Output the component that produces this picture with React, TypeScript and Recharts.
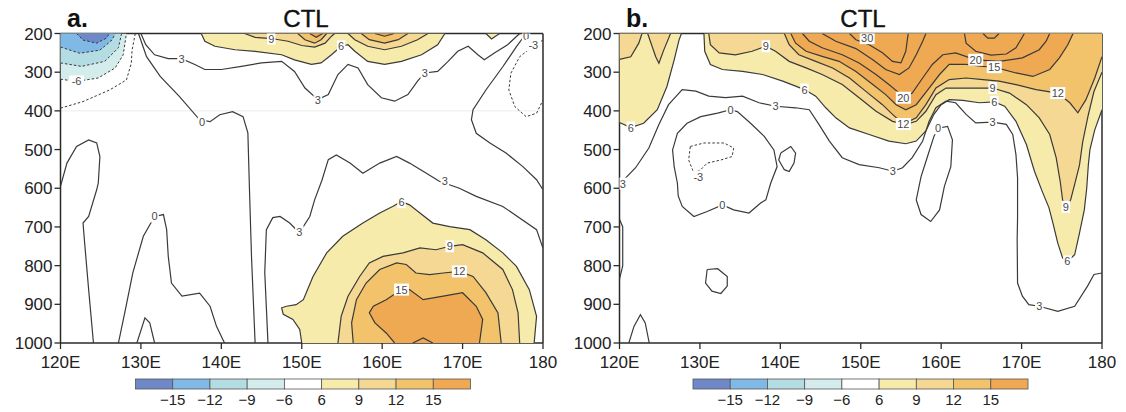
import React from "react"
import { ScatterChart, Scatter, XAxis, YAxis, ReferenceLine } from "recharts"

type Pt = [number, number]
type Label = [number, number, string]

// shading levels (colour bar) and ticks
const shadeColors = ["#6f88c8", "#80b9e6", "#b4dde3", "#d5ecec", "#ffffff", "#f7ebab", "#f4d893", "#f2c36b", "#efa952"]
const shadeLabels = ["−15", "−12", "−9", "−6", "6", "9", "12", "15"]
const lonTicks = [120, 130, 140, 150, 160, 170, 180]
const presTicks = [200, 300, 400, 500, 600, 700, 800, 900, 1000]

// ---- panel a contours (lon, hPa) ----
const aNeg3: Pt[] = [[120, 393], [122.8, 376], [126.1, 346], [128.2, 320], [128.8, 277], [128.9, 243], [129.3, 200]]
const aNeg6: Pt[] = [[120, 318], [122, 324], [124.7, 315], [126.8, 289], [127.8, 255], [128.2, 200]]
const aNeg9: Pt[] = [[120, 276], [122.6, 285], [125.5, 272], [127.2, 237], [127.6, 200]]
const aNeg12: Pt[] = [[120, 235], [122.4, 251], [124.9, 243], [126.4, 217], [126.8, 200]]
const aNeg15: Pt[] = [[122, 200], [122.8, 217], [124.5, 225], [125.7, 212], [126.1, 200]]
const aZeroTop: Pt[] = [[129.7, 200], [130.7, 260], [132.4, 311], [134.8, 363], [137.3, 423], [138.6, 428], [139.8, 410], [141.4, 402], [142.7, 415], [143.3, 457], [143.5, 604], [143.75, 776], [144.2, 1000]]
const aZeroLeft: Pt[] = [[120, 595], [120.8, 535], [122, 492], [123.5, 475], [124.5, 483], [124.9, 518], [124.7, 586], [124.5, 604], [123.5, 673], [122.8, 690], [123, 741], [123.5, 862], [124.1, 1000]]
const aZeroMid: Pt[] = [[127.2, 1000], [128, 921], [129, 818], [130.3, 724], [131.7, 673], [132.8, 668], [133.2, 707], [133.4, 776], [133.8, 845], [135.1, 879], [137.3, 871], [138.6, 905], [139.4, 957], [140.4, 1000]]
const aZeroSmall: Pt[] = [[129.5, 1000], [130.5, 935], [131.1, 948], [131.7, 1000]]
const aThreeTop: Pt[] = [[130, 200], [130.6, 229], [131.7, 255], [133.4, 265], [135.05, 265], [136.7, 280], [137.95, 293], [140, 293], [142.5, 285], [145, 276], [147.5, 272], [149.1, 298], [150.4, 341], [152, 371], [153.3, 358], [154.5, 306], [155.75, 280], [157, 289], [158.2, 332], [159.9, 366], [161.55, 375], [163.2, 358], [164.4, 323], [165.3, 302], [166.9, 298], [168.2, 272], [169.4, 246], [170.7, 233], [171.9, 255], [172.7, 268], [174, 250], [175.6, 229], [177.1, 200]]
const aZeroRight: Pt[] = [[177.9, 200], [176.7, 234], [175, 286], [172.9, 346], [171.3, 397], [171.1, 423], [171.7, 458], [173.4, 483], [175.4, 509], [177.5, 544], [179.2, 578], [180, 604]]
const aNeg3Right: Pt[] = [[180, 217], [178.7, 234], [177.1, 260], [176, 303], [175.75, 346], [176.5, 389], [177.9, 415], [179.2, 406], [180, 372]]
const aThreeBot: Pt[] = [[145.8, 1000], [145.4, 818], [145.6, 707], [146.4, 676], [147.3, 673], [148.5, 690], [149.7, 715], [151, 673], [151.6, 630], [152.5, 580], [153.3, 526], [154.3, 514], [156, 535], [157.6, 561], [159.7, 535], [161.8, 518], [163.4, 535], [165.5, 561], [167.1, 582], [169.6, 600], [171.7, 621], [175, 647], [179.2, 707], [180, 755]]
const aSixBot: Pt[] = [[150, 1000], [149.75, 965], [148.9, 939], [147.7, 926], [147.5, 909], [148.1, 905], [149.3, 901], [150.2, 888], [151.4, 828], [153.1, 767], [155.1, 724], [157.6, 690], [159.7, 664], [161.3, 647], [162.4, 634], [163.4, 643], [164.7, 664], [166.3, 690], [168.4, 699], [170.9, 707], [172.9, 733], [175, 767], [176.7, 802], [178.3, 862], [179.2, 931], [178.9, 1000]]
const aNineBot: Pt[] = [[154.5, 1000], [154.9, 931], [155.75, 879], [157.2, 828], [158.4, 793], [160.1, 776], [162.6, 767], [164.7, 754], [166.7, 759], [168.4, 750], [170, 746], [172.5, 767], [175, 810], [176.2, 862], [176.9, 922], [177.1, 1000]]
const aTwelveBot: Pt[] = [[156.4, 1000], [156.2, 948], [156.8, 888], [158, 845], [159.7, 810], [161.8, 793], [163, 797], [164.2, 819], [165.9, 823], [167.6, 819], [169.6, 815], [171.3, 828], [172.9, 870], [174.4, 922], [174.8, 1000]]
const aFifteenBot: Pt[] = [[161.55, 1000], [160.5, 974], [159.1, 948], [158.4, 922], [158.9, 905], [160.5, 888], [162.4, 862], [163.4, 862], [165.1, 888], [167.6, 879], [170, 870], [171.7, 905], [172.5, 939], [172.1, 1000]]
const aBumpBot: Pt[] = [[163.8, 1000], [165.1, 987], [166.3, 1000]]
const aSixTop: Pt[] = [[137.5, 200], [137.95, 220], [139.2, 233], [141.7, 242], [144.2, 246], [147.5, 255], [149.1, 268], [151.2, 280], [152.4, 276], [153.7, 255], [154.9, 233], [155.75, 229], [156.6, 246], [158.2, 272], [160.3, 280], [162.4, 272], [164.9, 255], [166.9, 229], [167.8, 200]]
const aNineTopL: Pt[] = [[142.9, 200], [144.2, 210], [146.2, 213], [148.3, 220], [150, 231], [151.6, 235], [152.9, 225], [153.7, 207], [154.1, 200]]
const aNineTopR: Pt[] = [[155.75, 200], [156.6, 216], [158.2, 233], [160.3, 242], [162.4, 233], [164.4, 216], [165.7, 200]]
const aTwelveTopL: Pt[] = [[149.5, 200], [150.4, 216], [151.6, 225], [152.4, 216], [153.1, 200]]
const aTwelveTopR: Pt[] = [[157.4, 200], [158.4, 216], [160.3, 225], [162, 216], [163.2, 200]]
const aFifteenTopL: Pt[] = [[151, 200], [151.8, 210], [152.6, 200]]
const aFifteenTopR: Pt[] = [[159.1, 200], [160.3, 207], [161.5, 200]]
const aSixBlob: Pt[] = [[172.9, 200], [173.6, 214], [174.6, 200]]
const aLabels: Label[] = [
  [146.2, 213, "9"], [154.9, 233, "6"], [135.05, 265, "3"], [152, 371, "3"], [165.3, 302, "3"],
  [137.6, 430, "0"], [122, 324, "-6"], [177.9, 207, "0"], [178.8, 230, "-3"], [149.7, 712, "3"],
  [167.8, 582, "3"], [162.4, 636, "6"], [168.4, 750, "9"], [169.6, 815, "12"], [162.4, 862, "15"], [131.7, 673, "0"],
]

// ---- panel b contours ----
const bCorner9: Pt[] = [[120, 267], [121.4, 260], [122.4, 225], [122.8, 200]]
const bV9: Pt[] = [[123.5, 200], [124.5, 260], [124.9, 277], [125.5, 243], [126.35, 200]]
const bSixLeft: Pt[] = [[120, 430], [121.4, 443], [123, 432], [124.7, 397], [125.9, 337], [126.8, 268], [127.4, 217], [127.7, 200]]
const bSix: Pt[] = [[130.5, 200], [130.6, 246], [131.3, 280], [132.8, 293], [135.3, 298], [137.8, 306], [140.3, 323], [141.9, 336], [143, 345], [144.4, 362], [145.65, 392], [146.9, 418], [148.6, 444], [151.05, 461], [153.5, 478], [155.6, 485], [156.9, 478], [158.1, 452], [159.1, 409], [160, 384], [161, 371], [162.7, 373], [164.75, 379], [166.6, 377], [167.9, 388], [169.3, 427], [170.6, 487], [171.6, 556], [172.6, 610], [173.4, 650], [173.9, 690], [174.5, 742], [175.1, 780], [175.7, 789], [176.6, 772], [177.2, 716], [177.8, 656], [178.1, 600], [178.3, 540], [178.5, 500], [179.1, 449], [180, 397]]
const bNine: Pt[] = [[131.1, 200], [131.3, 229], [132.4, 250], [134.4, 255], [136.5, 246], [138.2, 233], [139.4, 246], [141.1, 272], [143.2, 289], [145.2, 306], [147.7, 332], [149.8, 366], [151.9, 401], [153.95, 427], [155.6, 435], [156.9, 427], [158.1, 401], [159.35, 358], [160.6, 341], [162.3, 341], [164.3, 341], [166.4, 341], [168.5, 354], [170.6, 384], [172.2, 418], [173.5, 461], [174.3, 521], [174.8, 582], [175.1, 630], [175.5, 652], [176.1, 630], [176.6, 590], [177.2, 540], [177.6, 480], [178.3, 410], [179, 350], [180, 300]]
const bTwelve: Pt[] = [[140.5, 200], [141.1, 229], [142.3, 255], [144.4, 272], [146.5, 289], [148.6, 315], [150.6, 349], [152.7, 384], [153.95, 409], [155.3, 434], [156.9, 418], [158.1, 384], [159.35, 341], [161, 319], [163.1, 315], [165.2, 319], [167.2, 323], [169.3, 332], [171.8, 345], [174.5, 354], [176, 379], [177, 405], [178, 371], [179.1, 315], [180, 260]]
const bFifteen: Pt[] = [[141.3, 200], [141.9, 225], [143.2, 246], [145.2, 259], [147.3, 272], [149.4, 298], [151.5, 332], [153.1, 358], [154.4, 384], [155.6, 397], [156.9, 384], [158.5, 341], [159.8, 306], [161, 280], [163.1, 280], [165.2, 285], [166.6, 287], [169.3, 302], [171.4, 311], [173.5, 293], [174.7, 263], [175.75, 229], [176.4, 200]]
const bTwenty: Pt[] = [[142.75, 200], [143.6, 220], [145.2, 237], [147.7, 255], [149.8, 276], [151.9, 306], [153.5, 332], [154.8, 354], [155.3, 366], [156.4, 354], [157.7, 315], [158.9, 280], [160.2, 255], [161.8, 250], [164.3, 268], [167.2, 272], [170.1, 263], [172.2, 242], [173.05, 220], [173.5, 200]]
const bTwentyFiveL: Pt[] = [[145.2, 200], [146.9, 220], [149.4, 239], [151.5, 268], [153.1, 293], [154.8, 306], [156, 289], [156.9, 255], [157.7, 220], [158.1, 200]]
const bThirtyL: Pt[] = [[148.6, 200], [149.4, 216], [151.05, 229], [152.7, 250], [153.95, 272], [155, 276], [155.6, 246], [155.9, 200]]
const bTwentyFiveR: Pt[] = [[162.9, 200], [163.1, 225], [164.3, 246], [166.2, 256], [168.1, 253], [169.3, 237], [169.9, 216], [170.35, 200]]
const bThirtyR: Pt[] = [[165.2, 200], [165.8, 212], [166.6, 212], [167.2, 200]]
const bThree: Pt[] = [[120, 590], [122, 547], [123.65, 496], [124.9, 435], [126.1, 384], [127.8, 345], [129.5, 349], [131.1, 362], [133.2, 366], [135.3, 362], [137.35, 379], [139.4, 388], [141.9, 392], [143.6, 397], [144.8, 435], [146.1, 478], [147.7, 521], [149.8, 539], [152.3, 547], [154, 556], [155.2, 547], [156.4, 521], [157.7, 478], [158.5, 427], [159.35, 392], [160.6, 375], [161.8, 379], [163.1, 409], [164.3, 431], [166.4, 429], [168.1, 435], [168.9, 461], [169.3, 513], [169.5, 573], [169.5, 676], [169.45, 733], [169.5, 845], [170.1, 879], [170.9, 901], [172.2, 905], [174.5, 918], [176.6, 905], [178.2, 853], [179, 823], [180, 819]]
const bZeroLoop: Pt[] = [[133.8, 397], [132.2, 406], [130.1, 415], [128.4, 432], [127.2, 458], [126.6, 501], [126.8, 544], [127.2, 587], [127.3, 620], [127.8, 647], [129.25, 673], [130.9, 660], [132.8, 643], [134.2, 656], [136.1, 664], [137.55, 638], [138.2, 630], [138.8, 587], [139.6, 544], [139.2, 501], [138, 466], [136.3, 432], [134.65, 402], [133.8, 397]]
const bNeg3Loop: Pt[] = [[128.8, 492], [130.5, 483], [133, 483], [134.2, 496], [134, 518], [132.6, 527], [130.9, 535], [130.1, 552], [129.25, 561], [128.6, 527], [128.8, 492]]
const bZeroSmall1: Pt[] = [[140.05, 509], [141.3, 492], [141.9, 509], [141.7, 535], [141.1, 557], [140.5, 552], [139.8, 527], [140.05, 509]]
const bZeroRight: Pt[] = [[159.6, 445], [160.8, 440], [161.4, 475], [161.2, 544], [160.4, 595], [159.8, 656], [158.7, 686], [157.5, 668], [156.9, 630], [157.5, 570], [158.3, 518], [159.1, 466], [159.6, 445]]
const bZeroSmall2: Pt[] = [[130.9, 810], [132.2, 808], [133.4, 828], [133.4, 853], [132.6, 872], [131.5, 866], [130.7, 845], [130.9, 810]]
const bZeroArc: Pt[] = [[121.16, 1000], [121.8, 957], [122.6, 927], [123.2, 948], [123.7, 1000]]
const bZeroEdge: Pt[] = [[120, 680], [120.4, 700], [120.4, 800], [120, 835]]
const bLabels: Label[] = [
  [150.8, 212, "30"], [155.3, 366, "20"], [164.3, 268, "20"], [166.6, 287, "15"], [155.3, 434, "12"],
  [174.5, 354, "12"], [166.4, 341, "9"], [138.2, 233, "9"], [175.5, 648, "9"], [143, 345, "6"],
  [166.6, 377, "6"], [121.4, 443, "6"], [175.7, 789, "6"], [139.4, 388, "3"], [154, 556, "3"],
  [166.4, 429, "3"], [172.2, 905, "3"], [120.4, 588, "3"], [133.8, 397, "0"], [159.6, 445, "0"],
  [132.8, 643, "0"], [129.8, 570, "-3"],
]

const toRows = (pts: Pt[]) => pts.map(([lon, p]) => ({ lon, p }))
const noDot = () => <g />

const shade = (key: string, pts: Pt[], color: string) => (
  <Scatter key={key} data={toRows(pts)} fill={color} shape={noDot}
    line={{ fill: color, stroke: "none" }} isAnimationActive={false} />
)

const contour = (key: string, pts: Pt[], dashed = false) => (
  <Scatter key={key} data={toRows(pts)} fill="#3a3a3a" shape={noDot}
    line={{ fill: "none", stroke: "#3a3a3a", strokeWidth: dashed ? 1 : 1.2, strokeDasharray: dashed ? "2.5 2" : undefined }}
    isAnimationActive={false} />
)

const LabelMark = (props: any) => {
  const { cx, cy, payload } = props
  const w = payload.t.length * 6.5 + 2
  return (
    <g>
      <rect x={cx - w / 2} y={cy - 6} width={w} height={12} fill="#fff" />
      <text x={cx} y={cy + 4} textAnchor="middle" fontSize={11} fill="#4a4a4a">{payload.t}</text>
    </g>
  )
}

const labelSeries = (labels: Label[]) => (
  <Scatter key="labels" data={labels.map(([lon, p, t]) => ({ lon, p, t }))} shape={LabelMark} isAnimationActive={false} />
)

const [cN15, cN12, cN9, cN6, , c6, c9, c12, c15] = shadeColors

const panelA = [
  shade("an6", [[120, 200], ...aNeg6], cN6),
  shade("an9", [[120, 200], ...aNeg9], cN9),
  shade("an12", [[120, 200], ...aNeg12], cN12),
  shade("an15", aNeg15, cN15),
  shade("at6", aSixTop, c6),
  shade("at6b", aSixBlob, c6),
  shade("at9l", aNineTopL, c9),
  shade("at9r", aNineTopR, c9),
  shade("at12l", aTwelveTopL, c12),
  shade("at12r", aTwelveTopR, c12),
  shade("at15l", aFifteenTopL, c15),
  shade("at15r", aFifteenTopR, c15),
  shade("ab6", aSixBot, c6),
  shade("ab9", aNineBot, c9),
  shade("ab12", aTwelveBot, c12),
  shade("ab15", aFifteenBot, c15),
  contour("l1", aNeg3, true), contour("l2", aNeg6, true), contour("l3", aNeg9, true),
  contour("l4", aNeg12, true), contour("l5", aNeg15, true), contour("l6", aNeg3Right, true),
  contour("l7", aZeroTop), contour("l8", aZeroLeft), contour("l9", aZeroMid), contour("l10", aZeroSmall),
  contour("l11", aThreeTop), contour("l12", aZeroRight), contour("l13", aThreeBot),
  contour("l14", aSixBot), contour("l15", aNineBot), contour("l16", aTwelveBot), contour("l17", aFifteenBot), contour("l18", aBumpBot),
  contour("l19", aSixTop), contour("l20", aNineTopL), contour("l21", aNineTopR), contour("l22", aTwelveTopL),
  contour("l23", aTwelveTopR), contour("l24", aFifteenTopL), contour("l25", aFifteenTopR), contour("l26", aSixBlob),
  labelSeries(aLabels),
]

const panelB = [
  shade("b6l", [[120, 200], ...bSixLeft], c6),
  shade("b9c", [[120, 200], ...bCorner9], c9),
  shade("b9v", bV9, c9),
  shade("b6", [...bSix, [180, 200]], c6),
  shade("b9", [...bNine, [180, 200]], c9),
  shade("b12", [...bTwelve, [180, 200]], c12),
  shade("b15", bFifteen, c15),
  contour("m1", bSixLeft), contour("m2", bCorner9), contour("m3", bV9), contour("m4", bSix),
  contour("m5", bNine), contour("m6", bTwelve), contour("m7", bFifteen), contour("m8", bTwenty),
  contour("m9", bTwentyFiveL), contour("m10", bThirtyL), contour("m11", bTwentyFiveR), contour("m12", bThirtyR),
  contour("m13", bThree), contour("m14", bZeroLoop), contour("m15", bNeg3Loop, true), contour("m16", bZeroSmall1),
  contour("m17", bZeroRight), contour("m18", bZeroSmall2), contour("m19", bZeroArc), contour("m20", bZeroEdge),
  labelSeries(bLabels),
]

const axisStroke = "#2a2a2a"
const tickStyle = { fontSize: 17, fill: "#222", fontFamily: "'Liberation Sans', Arial, sans-serif" }

const Panel = ({ series, faintLine }: { series: React.ReactNode[]; faintLine?: boolean }) => (
  <ScatterChart width={560} height={412} margin={{ top: 33.5, right: 17, bottom: 39, left: 0 }}>
    <XAxis type="number" dataKey="lon" domain={[120, 180]} ticks={lonTicks} allowDataOverflow
      tickFormatter={(v: number) => (v === 180 ? "180" : `${v}E`)} height={30}
      tick={tickStyle} tickSize={6} tickMargin={7}
      axisLine={{ stroke: axisStroke, strokeWidth: 1.5 }} tickLine={{ stroke: axisStroke, strokeWidth: 1.3 }} />
    <YAxis type="number" dataKey="p" domain={[200, 1000]} ticks={presTicks} reversed allowDataOverflow
      width={60.5} tick={tickStyle} tickSize={6} tickMargin={2}
      axisLine={{ stroke: axisStroke, strokeWidth: 1.5 }} tickLine={{ stroke: axisStroke, strokeWidth: 1.3 }} />
    {faintLine && <ReferenceLine y={400} stroke="#ececec" strokeWidth={1} />}
    {series}
    <ReferenceLine y={200} stroke={axisStroke} strokeWidth={1.5} />
    <ReferenceLine x={180} stroke={axisStroke} strokeWidth={1.5} />
  </ScatterChart>
)

const ColorBar = ({ left }: { left: number }) => {
  const w = 335 / shadeColors.length
  return (
    <g>
      {shadeColors.map((c, i) => (
        <rect key={i} x={left + i * w} y={379} width={w} height={10} fill={c} stroke="#555" strokeWidth={0.8} />
      ))}
      {shadeLabels.map((t, i) => (
        <text key={t} x={left + (i + 1) * w} y={405} textAnchor="middle" fontSize={15} fill="#222">{t}</text>
      ))}
    </g>
  )
}

export default function App() {
  return (
    <div style={{ position: "absolute", left: 0, top: 0, width: 1126, height: 412, background: "#fff",
      fontFamily: "'Liberation Sans', Arial, sans-serif" }}>
      <svg width={1126} height={412} style={{ position: "absolute", left: 0, top: 0 }}>
        <text x={67} y={27} fontSize={25} fontWeight="bold" fill="#111">a.</text>
        <text x={306} y={27} fontSize={24} fill="#111" stroke="#111" strokeWidth={0.4} textAnchor="middle">CTL</text>
        <text x={626} y={27} fontSize={25} fontWeight="bold" fill="#111">b.</text>
        <text x={863} y={27} fontSize={24} fill="#111" stroke="#111" strokeWidth={0.4} textAnchor="middle">CTL</text>
        <ColorBar left={135.5} />
        <ColorBar left={693} />
      </svg>
      <div style={{ position: "absolute", left: 0, top: 0 }}>
        <Panel series={panelA} faintLine />
      </div>
      <div style={{ position: "absolute", left: 558.5, top: 0 }}>
        <Panel series={panelB} />
      </div>
    </div>
  )
}
